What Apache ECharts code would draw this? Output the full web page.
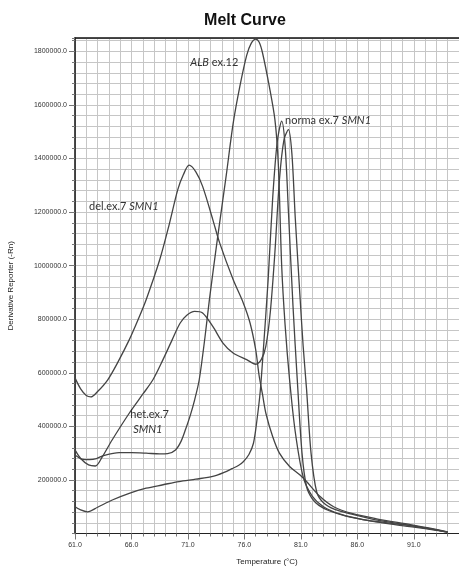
<!DOCTYPE html>
<html>
<head>
<meta charset="utf-8">
<script src="https://cdn.jsdelivr.net/npm/echarts@6/dist/echarts.min.js"></script>
<style>
html,body{margin:0;padding:0;background:#fff;}
#c{width:459px;height:567px;}
</style>
</head>
<body>
<div id="c"></div>
<script>
// ---- data (temperature °C, derivative reporter -Rn) ----
const xLabelValues = [61, 66, 71, 76, 81, 86, 91];
const yLabelValues = [200000, 400000, 600000, 800000, 1000000, 1200000, 1400000, 1600000, 1800000];

const normalSMN1 = [[61,100000],[61.5,88000],[62.1,81000],[63,98000],[64.3,125000],[65.8,150000],[67.3,169000],[68.8,182000],[70.2,194000],[71.7,203000],[73.2,213000],[74.2,228000],[74.9,242000],[75.5,255000],[75.9,268000],[76.4,295000],[76.8,337000],[77.1,420000],[77.4,530000],[77.7,700000],[78.1,947000],[78.5,1250000],[78.9,1460000],[79.3,1540000],[79.6,1450000],[79.9,1200000],[80.3,850000],[80.7,560000],[81.1,300000],[81.5,175000],[82.0,130000],[82.6,105000],[83.5,85000],[85,65000],[87,48000],[89,35000],[91,24000],[93,12000],[94,5000]];

const hetSMN1 = [[61,312000],[61.5,280000],[62.2,256000],[62.8,252000],[63.4,285000],[64.3,350000],[65.8,449000],[67,520000],[67.9,574000],[68.8,650000],[69.6,723000],[70.3,785000],[70.9,815000],[71.6,829000],[72.3,823000],[73.2,773000],[74.1,711000],[75,674000],[76.2,649000],[77,632000],[77.5,650000],[77.9,700000],[78.3,830000],[78.7,1050000],[79.1,1320000],[79.5,1470000],[79.9,1508000],[80.2,1420000],[80.5,1180000],[80.9,900000],[81.2,700000],[81.5,540000],[81.9,300000],[82.4,155000],[83,115000],[84,90000],[85.5,72000],[87.5,52000],[90,35000],[92.5,17000],[94,5000]];

const albEx12 = [[61,293000],[61.6,278000],[62.3,276000],[62.9,280000],[63.6,292000],[64.9,302000],[66,302000],[67.3,300000],[68.5,297000],[69.2,298000],[69.9,312000],[70.4,345000],[70.8,390000],[71.2,440000],[71.6,500000],[72,574000],[72.5,730000],[72.9,873000],[73.6,1097000],[74.4,1340000],[75,1530000],[75.6,1670000],[76.2,1785000],[76.6,1830000],[77,1846000],[77.3,1835000],[77.6,1795000],[78.2,1670000],[78.7,1545000],[79,1380000],[79.3,1000000],[79.6,780000],[80,574000],[80.5,380000],[81.2,212000],[82,140000],[83,100000],[84.5,72000],[86.5,52000],[89,38000],[91.5,24000],[94,5000]];

const delSMN1 = [[61,581000],[61.5,540000],[62,515000],[62.4,510000],[63,530000],[63.9,574000],[64.8,640000],[65.8,723000],[66.6,800000],[67.3,873000],[68.5,1022000],[69.3,1147000],[70.1,1284000],[70.6,1340000],[71.1,1375000],[71.7,1350000],[72.3,1296000],[73.2,1172000],[73.8,1086000],[75,948000],[75.9,861000],[76.5,786000],[77,686000],[77.3,590000],[77.6,520000],[77.9,449000],[78.5,362000],[79.1,300000],[80,250000],[80.9,219000],[81.5,194000],[82.7,138000],[83.9,100000],[85.6,74000],[87.7,55000],[90.7,33000],[93.3,13000],[94,6000]];

// curve annotations: [temperature, value] anchor, rich text
const curveLabels = [
  {at: [71.2, 1759000], text: '{i|ALB} ex.12'},
  {at: [79.6, 1542000], text: 'norma ex.7 {i|SMN1}'},
  {at: [62.25, 1220000], text: 'del.ex.7 {i|SMN1}'},
  {at: [65.9, 443000], text: 'het.ex.7'},
  {at: [66.15, 387000], text: '{i|SMN1}'}
];

const chart = echarts.init(document.getElementById('c'), null, {renderer: 'canvas'});
const gridColor = '#c6c6c6';
const lineColor = '#444';
const tickFont = {fontSize: 7, color: '#333', fontFamily: 'Liberation Sans'};

function curve(name, data) {
  return {
    name: name, type: 'line', data: data, xAxisIndex: 0, yAxisIndex: 0,
    smooth: 0.3, symbol: 'none',
    lineStyle: {color: lineColor, width: 1.3}
  };
}

chart.setOption({
  animation: false,
  backgroundColor: '#fff',
  grid: {left: 75, right: 0, top: 38, bottom: 33.5, containLabel: false, outerBoundsMode: 'none'},
  xAxis: [
    {
      type: 'value', min: 61, max: 95, interval: 1, position: 'bottom',
      name: 'Temperature (°C)', nameLocation: 'middle', nameGap: 24,
      nameTextStyle: {fontSize: 8, color: '#222', fontFamily: 'Liberation Sans'},
      axisLine: {show: true, lineStyle: {color: '#222', width: 1.2}},
      axisTick: {show: true, length: 3, lineStyle: {color: '#777'}},
      axisLabel: Object.assign({customValues: xLabelValues, margin: 8, formatter: v => v.toFixed(1)}, tickFont),
      splitLine: {show: true, lineStyle: {color: gridColor, width: 1}}
    },
    {
      type: 'value', min: 61, max: 95, position: 'bottom',
      axisLine: {show: false},
      axisTick: {show: true, customValues: xLabelValues, length: 6, lineStyle: {color: '#777'}},
      axisLabel: {show: false},
      splitLine: {show: false}
    },
    {
      type: 'value', min: 61, max: 95, position: 'top',
      axisLine: {show: true, lineStyle: {color: '#111', width: 1.5}},
      axisTick: {show: false}, axisLabel: {show: false}, splitLine: {show: false}
    }
  ],
  yAxis: [
    {
      type: 'value', min: 0, max: 1850000, interval: 40000, position: 'left',
      name: 'Derivative Reporter (-Rn)', nameLocation: 'middle', nameGap: 60,
      nameTextStyle: {fontSize: 8, color: '#222', fontFamily: 'Liberation Sans'},
      axisLine: {show: true, lineStyle: {color: '#111', width: 1.5}},
      axisTick: {show: true, length: 3, lineStyle: {color: '#777'}},
      axisLabel: Object.assign({customValues: yLabelValues, margin: 8, formatter: v => v.toFixed(1)}, tickFont),
      splitLine: {show: true, lineStyle: {color: gridColor, width: 1}}
    },
    {
      type: 'value', min: 0, max: 1850000, position: 'left',
      axisLine: {show: false},
      axisTick: {show: true, customValues: yLabelValues, length: 6, lineStyle: {color: '#777'}},
      axisLabel: {show: false},
      splitLine: {show: false}
    }
  ],
  series: [
    curve('norma ex.7 SMN1', normalSMN1),
    curve('het.ex.7 SMN1', hetSMN1),
    curve('ALB ex.12', albEx12),
    curve('del.ex.7 SMN1', delSMN1)
  ]
});

const graphics = [{
  type: 'text', x: 245, y: 21,
  style: {text: 'Melt Curve', font: 'bold 16px "Liberation Sans"', fill: '#111', textAlign: 'center', textVerticalAlign: 'middle'}
}];
curveLabels.forEach(l => {
  const p = chart.convertToPixel({xAxisIndex: 0, yAxisIndex: 0}, l.at);
  graphics.push({
    type: 'text', x: p[0], y: p[1], z: 100,
    style: {
      text: l.text, fill: '#333', font: '11px Lato', textVerticalAlign: 'middle',
      rich: {i: {fontStyle: 'italic', fontSize: 11, fontFamily: 'Lato', fill: '#333'}}
    }
  });
});
chart.setOption({graphic: graphics});
</script>
</body>
</html>
